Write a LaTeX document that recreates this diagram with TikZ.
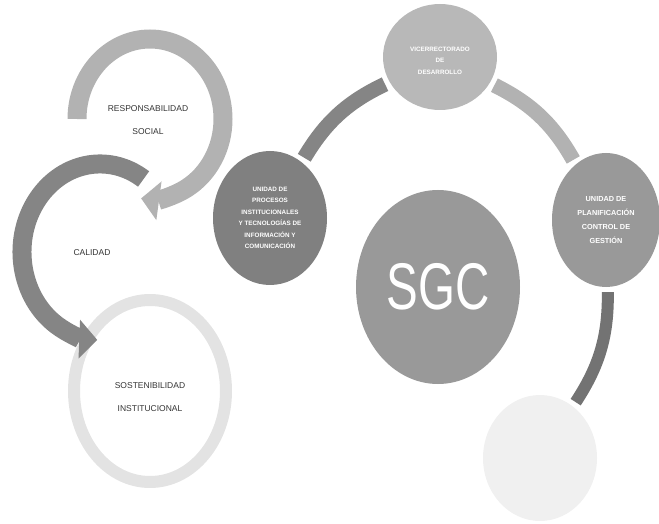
\documentclass[tikz,border=0pt]{standalone}
\usepackage{fontspec}
\setmainfont{Liberation Sans}
\usetikzlibrary{arrows.meta,shapes.geometric}

\begin{document}
\begin{tikzpicture}[x=1pt,y=1pt,
        ring/.style={line width=19pt},
        ringarrow/.style={ring,-{Triangle[width=38pt,length=18pt]}},
        ringtext/.style={font=\fontsize{8.5}{23}\selectfont,align=center,text=black!80},
        unit/.style={ellipse,inner sep=0pt,text=white,align=center,font=\bfseries\fontsize{6.3}{11.5}\selectfont},
        band/.style={line width=15pt,shorten <=5pt,shorten >=5pt}]
        \useasboundingbox (0,0) rectangle (659,523);
        % cadena de la izquierda
        \draw [ring,black!11,line width=12pt] (150,132) ellipse [x radius=76,y radius=91];
        \draw [ringarrow,black!48] (143.6,344) arc [start angle=56,end angle=268,x radius=78,y radius=88];
        \draw [ringarrow,black!30] (77,404) arc [start angle=180,end angle=-97,x radius=73,y radius=80];
        \node [ringtext] (resp) at (148,403) {RESPONSABILIDAD\\SOCIAL};
        \node [ringtext] (cal) at (92,270) {CALIDAD};
        \node [ringtext] (sost) at (150,126) {SOSTENIBILIDAD\\INSTITUCIONAL};
        % SGC y sus unidades
        \node [unit,fill=black!28,minimum width=114pt,minimum height=106pt] (desa) at (440,466) {\\VICERRECTORADO\\DE\\DESARROLLO};
        \node [unit,fill=black!50,minimum width=114pt,minimum height=134pt] (upitic) at (270,305) {UNIDAD DE\\PROCESOS\\INSTITUCIONALES\\Y TECNOLOG\'IAS DE\\INFORMACI\'ON Y\\COMUNICACI\'ON};
        \node [unit,fill=black!40,minimum width=108pt,minimum height=134pt,font=\bfseries\fontsize{7.3}{14}\selectfont] (upcg) at (606,303) {UNIDAD DE\\PLANIFICACI\'ON\\CONTROL DE\\GESTI\'ON};
        \node [unit,fill=black!40,minimum width=164pt,minimum height=194pt,font=\fontsize{66}{66}\selectfont] (sgc) at (438,236) {\scalebox{0.72}[1]{SGC}};
        \node [unit,fill=black!6,minimum width=114pt,minimum height=126pt] (otra) at (540,65) {};
        \draw [band,black!48] (upitic) to [bend left=17] (desa);
        \draw [band,black!30] (desa) to [bend left=17] (upcg);
        \draw [band,black!55,line width=12pt] (upcg) to [bend left=17] (otra);
\end{tikzpicture}
\end{document}
